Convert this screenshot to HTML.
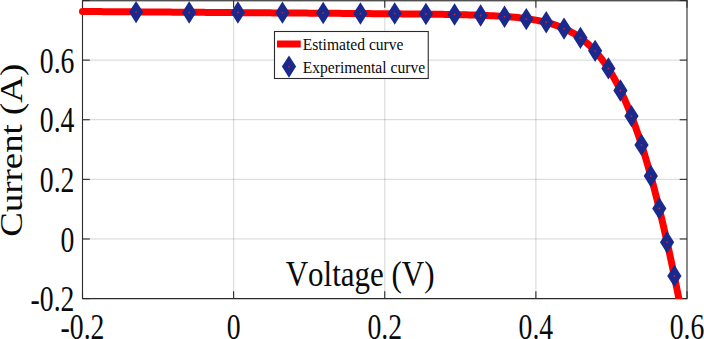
<!DOCTYPE html><html><head><meta charset="utf-8"><style>html,body{margin:0;padding:0;background:#fff;overflow:hidden}svg{display:block}text{font-family:"Liberation Serif",serif;fill:#0a0a0a;font-kerning:none;font-variant-ligatures:none}</style></head><body>
<svg width="704" height="339" viewBox="0 0 704 339">
<rect width="704" height="339" fill="#fff"/>
<defs><clipPath id="c"><rect x="70" y="0" width="620" height="299"/></clipPath></defs>
<line x1="233.62" y1="0.5" x2="233.62" y2="298.6" stroke="#000" stroke-opacity="0.135" stroke-width="1.25"/>
<line x1="384.75" y1="0.5" x2="384.75" y2="298.6" stroke="#000" stroke-opacity="0.135" stroke-width="1.25"/>
<line x1="535.88" y1="0.5" x2="535.88" y2="298.6" stroke="#000" stroke-opacity="0.135" stroke-width="1.25"/>
<line x1="82.5" y1="238.98" x2="687.0" y2="238.98" stroke="#000" stroke-opacity="0.135" stroke-width="1.25"/>
<line x1="82.5" y1="179.36" x2="687.0" y2="179.36" stroke="#000" stroke-opacity="0.135" stroke-width="1.25"/>
<line x1="82.5" y1="119.74" x2="687.0" y2="119.74" stroke="#000" stroke-opacity="0.135" stroke-width="1.25"/>
<line x1="82.5" y1="60.12" x2="687.0" y2="60.12" stroke="#000" stroke-opacity="0.135" stroke-width="1.25"/>
<path d="M82.5,0 L82.5,298.6 L687.0,298.6 L687.0,0" fill="none" stroke="#2a2a2a" stroke-width="1.1"/>
<rect x="82.0" y="0" width="605.5" height="1" fill="#505050"/>
<rect x="82.0" y="1" width="605.5" height="1" fill="#000" fill-opacity="0.28"/>
<line x1="82.50" y1="298.6" x2="82.50" y2="291.3" stroke="#2a2a2a" stroke-width="1.1"/>
<line x1="82.50" y1="0.5" x2="82.50" y2="7.8" stroke="#2a2a2a" stroke-width="1.1"/>
<line x1="233.62" y1="298.6" x2="233.62" y2="291.3" stroke="#2a2a2a" stroke-width="1.1"/>
<line x1="233.62" y1="0.5" x2="233.62" y2="7.8" stroke="#2a2a2a" stroke-width="1.1"/>
<line x1="384.75" y1="298.6" x2="384.75" y2="291.3" stroke="#2a2a2a" stroke-width="1.1"/>
<line x1="384.75" y1="0.5" x2="384.75" y2="7.8" stroke="#2a2a2a" stroke-width="1.1"/>
<line x1="535.88" y1="298.6" x2="535.88" y2="291.3" stroke="#2a2a2a" stroke-width="1.1"/>
<line x1="535.88" y1="0.5" x2="535.88" y2="7.8" stroke="#2a2a2a" stroke-width="1.1"/>
<line x1="687.00" y1="298.6" x2="687.00" y2="291.3" stroke="#2a2a2a" stroke-width="1.1"/>
<line x1="687.00" y1="0.5" x2="687.00" y2="7.8" stroke="#2a2a2a" stroke-width="1.1"/>
<line x1="82.5" y1="298.60" x2="89.8" y2="298.60" stroke="#2a2a2a" stroke-width="1.1"/>
<line x1="687.0" y1="298.60" x2="679.7" y2="298.60" stroke="#2a2a2a" stroke-width="1.1"/>
<line x1="82.5" y1="238.98" x2="89.8" y2="238.98" stroke="#2a2a2a" stroke-width="1.1"/>
<line x1="687.0" y1="238.98" x2="679.7" y2="238.98" stroke="#2a2a2a" stroke-width="1.1"/>
<line x1="82.5" y1="179.36" x2="89.8" y2="179.36" stroke="#2a2a2a" stroke-width="1.1"/>
<line x1="687.0" y1="179.36" x2="679.7" y2="179.36" stroke="#2a2a2a" stroke-width="1.1"/>
<line x1="82.5" y1="119.74" x2="89.8" y2="119.74" stroke="#2a2a2a" stroke-width="1.1"/>
<line x1="687.0" y1="119.74" x2="679.7" y2="119.74" stroke="#2a2a2a" stroke-width="1.1"/>
<line x1="82.5" y1="60.12" x2="89.8" y2="60.12" stroke="#2a2a2a" stroke-width="1.1"/>
<line x1="687.0" y1="60.12" x2="679.7" y2="60.12" stroke="#2a2a2a" stroke-width="1.1"/>
<line x1="82.5" y1="0.50" x2="89.8" y2="0.50" stroke="#2a2a2a" stroke-width="1.1"/>
<line x1="687.0" y1="0.50" x2="679.7" y2="0.50" stroke="#2a2a2a" stroke-width="1.1"/>
<path d="M82.50,11.48 L85.52,11.50 L88.55,11.52 L91.57,11.55 L94.59,11.57 L97.61,11.59 L100.64,11.61 L103.66,11.64 L106.68,11.66 L109.70,11.68 L112.73,11.70 L115.75,11.72 L118.77,11.75 L121.79,11.77 L124.82,11.79 L127.84,11.81 L130.86,11.83 L133.88,11.86 L136.91,11.88 L139.93,11.90 L142.95,11.92 L145.97,11.95 L149.00,11.97 L152.02,11.99 L155.04,12.01 L158.06,12.03 L161.09,12.06 L164.11,12.08 L167.13,12.10 L170.15,12.12 L173.18,12.15 L176.20,12.17 L179.22,12.19 L182.24,12.21 L185.27,12.23 L188.29,12.26 L191.31,12.28 L194.33,12.30 L197.36,12.32 L200.38,12.35 L203.40,12.37 L206.42,12.39 L209.45,12.41 L212.47,12.43 L215.49,12.46 L218.51,12.48 L221.54,12.50 L224.56,12.52 L227.58,12.54 L230.60,12.57 L233.63,12.59 L236.65,12.61 L239.67,12.63 L242.69,12.66 L245.72,12.68 L248.74,12.70 L251.76,12.72 L254.78,12.74 L257.81,12.77 L260.83,12.79 L263.85,12.81 L266.87,12.83 L269.90,12.86 L272.92,12.88 L275.94,12.90 L278.96,12.92 L281.99,12.94 L285.01,12.97 L288.03,12.99 L291.05,13.01 L294.08,13.03 L297.10,13.06 L300.12,13.08 L303.14,13.10 L306.17,13.12 L309.19,13.15 L312.21,13.17 L315.23,13.19 L318.26,13.21 L321.28,13.24 L324.30,13.26 L327.32,13.28 L330.35,13.30 L333.37,13.33 L336.39,13.35 L339.41,13.37 L342.44,13.40 L345.46,13.42 L348.48,13.44 L351.50,13.46 L354.53,13.49 L357.55,13.51 L360.57,13.53 L363.59,13.56 L366.62,13.58 L369.64,13.61 L372.66,13.63 L375.68,13.66 L378.71,13.68 L381.73,13.71 L384.75,13.73 L387.77,13.76 L390.80,13.78 L393.82,13.81 L396.84,13.84 L399.86,13.86 L402.89,13.89 L405.91,13.92 L408.93,13.95 L411.95,13.98 L414.98,14.01 L418.00,14.04 L421.02,14.08 L424.04,14.11 L427.07,14.14 L430.09,14.18 L433.11,14.22 L436.13,14.26 L439.16,14.30 L442.18,14.35 L445.20,14.39 L448.22,14.44 L451.25,14.49 L454.27,14.55 L457.29,14.61 L460.31,14.67 L463.34,14.74 L466.36,14.81 L469.38,14.89 L472.40,14.97 L475.43,15.06 L478.45,15.16 L481.47,15.26 L484.49,15.38 L487.52,15.50 L490.54,15.64 L493.56,15.78 L496.58,15.94 L499.61,16.12 L502.63,16.31 L505.65,16.52 L508.67,16.75 L511.70,17.00 L514.72,17.28 L517.74,17.58 L520.76,17.91 L523.79,18.27 L526.81,18.67 L529.83,19.11 L532.85,19.60 L535.88,20.13 L538.90,20.72 L541.92,21.36 L544.94,22.07 L547.97,22.84 L550.99,23.70 L554.01,24.64 L557.03,25.67 L560.06,26.81 L563.08,28.05 L566.10,29.42 L569.12,30.92 L572.15,32.56 L575.17,34.36 L578.19,36.33 L581.21,38.48 L584.24,40.83 L587.26,43.39 L590.28,46.18 L593.30,49.22 L596.33,52.51 L599.35,56.09 L602.37,59.97 L605.39,64.17 L608.42,68.69 L611.44,73.57 L614.46,78.82 L617.48,84.45 L620.51,90.49 L623.53,96.94 L626.55,103.82 L629.57,111.15 L632.60,118.94 L635.62,127.19 L638.64,135.92 L641.66,145.13 L644.69,154.83 L647.71,165.03 L650.73,175.71 L653.75,186.90 L656.78,198.58 L659.80,210.75 L662.82,223.41 L665.84,236.56 L668.87,250.19 L671.89,264.28 L674.91,278.84 L677.93,293.86 L680.96,309.32" fill="none" stroke="#ff0000" stroke-width="7" stroke-linecap="round" stroke-linejoin="round" clip-path="url(#c)"/>
<g clip-path="url(#c)">
<path d="M136.07,0.88 L143.17,12.08 L136.07,23.28 L128.97,12.08Z" fill="#1a2a8c"/>
<circle cx="136.07" cy="12.08" r="0.9" fill="#c8204a"/>
<path d="M189.19,1.32 L196.29,12.52 L189.19,23.72 L182.09,12.52Z" fill="#1a2a8c"/>
<circle cx="189.19" cy="12.52" r="0.9" fill="#c8204a"/>
<path d="M237.93,1.32 L245.03,12.52 L237.93,23.72 L230.83,12.52Z" fill="#1a2a8c"/>
<circle cx="237.93" cy="12.52" r="0.9" fill="#c8204a"/>
<path d="M282.44,1.47 L289.54,12.67 L282.44,23.87 L275.34,12.67Z" fill="#1a2a8c"/>
<circle cx="282.44" cy="12.67" r="0.9" fill="#c8204a"/>
<path d="M323.17,1.77 L330.27,12.97 L323.17,24.17 L316.07,12.97Z" fill="#1a2a8c"/>
<circle cx="323.17" cy="12.97" r="0.9" fill="#c8204a"/>
<path d="M360.42,2.37 L367.52,13.57 L360.42,24.77 L353.32,13.57Z" fill="#1a2a8c"/>
<circle cx="360.42" cy="13.57" r="0.9" fill="#c8204a"/>
<path d="M394.72,2.37 L401.82,13.57 L394.72,24.77 L387.62,13.57Z" fill="#1a2a8c"/>
<circle cx="394.72" cy="13.57" r="0.9" fill="#c8204a"/>
<path d="M425.93,2.82 L433.03,14.02 L425.93,25.22 L418.83,14.02Z" fill="#1a2a8c"/>
<circle cx="425.93" cy="14.02" r="0.9" fill="#c8204a"/>
<path d="M454.57,3.26 L461.67,14.46 L454.57,25.66 L447.47,14.46Z" fill="#1a2a8c"/>
<circle cx="454.57" cy="14.46" r="0.9" fill="#c8204a"/>
<path d="M480.64,4.31 L487.74,15.51 L480.64,26.71 L473.54,15.51Z" fill="#1a2a8c"/>
<circle cx="480.64" cy="15.51" r="0.9" fill="#c8204a"/>
<path d="M504.52,5.50 L511.62,16.70 L504.52,27.90 L497.42,16.70Z" fill="#1a2a8c"/>
<circle cx="504.52" cy="16.70" r="0.9" fill="#c8204a"/>
<path d="M526.28,7.88 L533.38,19.08 L526.28,30.28 L519.18,19.08Z" fill="#1a2a8c"/>
<circle cx="526.28" cy="19.08" r="0.9" fill="#c8204a"/>
<path d="M546.23,11.01 L553.33,22.21 L546.23,33.41 L539.13,22.21Z" fill="#1a2a8c"/>
<circle cx="546.23" cy="22.21" r="0.9" fill="#c8204a"/>
<path d="M564.06,17.42 L571.16,28.62 L564.06,39.82 L556.96,28.62Z" fill="#1a2a8c"/>
<circle cx="564.06" cy="28.62" r="0.9" fill="#c8204a"/>
<path d="M580.46,26.66 L587.56,37.86 L580.46,49.06 L573.36,37.86Z" fill="#1a2a8c"/>
<circle cx="580.46" cy="37.86" r="0.9" fill="#c8204a"/>
<path d="M595.12,39.63 L602.22,50.83 L595.12,62.03 L588.02,50.83Z" fill="#1a2a8c"/>
<circle cx="595.12" cy="50.83" r="0.9" fill="#c8204a"/>
<path d="M608.41,57.22 L615.51,68.42 L608.41,79.62 L601.31,68.42Z" fill="#1a2a8c"/>
<circle cx="608.41" cy="68.42" r="0.9" fill="#c8204a"/>
<path d="M620.43,79.28 L627.53,90.48 L620.43,101.68 L613.33,90.48Z" fill="#1a2a8c"/>
<circle cx="620.43" cy="90.48" r="0.9" fill="#c8204a"/>
<path d="M631.46,104.91 L638.56,116.11 L631.46,127.31 L624.36,116.11Z" fill="#1a2a8c"/>
<circle cx="631.46" cy="116.11" r="0.9" fill="#c8204a"/>
<path d="M641.51,133.68 L648.61,144.88 L641.51,156.08 L634.41,144.88Z" fill="#1a2a8c"/>
<circle cx="641.51" cy="144.88" r="0.9" fill="#c8204a"/>
<path d="M650.81,164.83 L657.91,176.03 L650.81,187.23 L643.71,176.03Z" fill="#1a2a8c"/>
<circle cx="650.81" cy="176.03" r="0.9" fill="#c8204a"/>
<path d="M659.27,197.18 L666.37,208.38 L659.27,219.58 L652.17,208.38Z" fill="#1a2a8c"/>
<circle cx="659.27" cy="208.38" r="0.9" fill="#c8204a"/>
<path d="M667.05,231.01 L674.15,242.21 L667.05,253.41 L659.95,242.21Z" fill="#1a2a8c"/>
<circle cx="667.05" cy="242.21" r="0.9" fill="#c8204a"/>
<path d="M674.38,264.70 L681.48,275.90 L674.38,287.10 L667.28,275.90Z" fill="#1a2a8c"/>
<circle cx="674.38" cy="275.90" r="0.9" fill="#c8204a"/>
</g>
<rect x="274.5" y="31.5" width="153.75" height="47" fill="#fff" stroke="#2a2a2a" stroke-width="1.1"/>
<line x1="277" y1="44" x2="300.75" y2="44" stroke="#ff0000" stroke-width="7"/>
<path d="M289.00,55.40 L296.10,66.60 L289.00,77.80 L281.90,66.60Z" fill="#1a2a8c"/>
<circle cx="289.00" cy="66.60" r="0.9" fill="#c8204a"/>
<text transform="translate(302.70,50.30) scale(1,1.1)" font-size="15.6" text-anchor="start">Estimated curve</text>
<text transform="translate(302.70,72.80) scale(1,1.1)" font-size="15.6" text-anchor="start">Experimental curve</text>
<text transform="translate(82.50,338.60) scale(1,1.265)" font-size="27.7" text-anchor="middle">-0.2</text>
<text transform="translate(233.62,338.60) scale(1,1.265)" font-size="27.7" text-anchor="middle">0</text>
<text transform="translate(384.75,338.60) scale(1,1.265)" font-size="27.7" text-anchor="middle">0.2</text>
<text transform="translate(535.88,338.60) scale(1,1.265)" font-size="27.7" text-anchor="middle">0.4</text>
<text transform="translate(687.00,338.60) scale(1,1.265)" font-size="27.7" text-anchor="middle">0.6</text>
<text transform="translate(74.40,311.20) scale(1,1.275)" font-size="27.7" text-anchor="end">-0.2</text>
<text transform="translate(74.40,251.58) scale(1,1.275)" font-size="27.7" text-anchor="end">0</text>
<text transform="translate(74.40,191.96) scale(1,1.275)" font-size="27.7" text-anchor="end">0.2</text>
<text transform="translate(74.40,132.34) scale(1,1.275)" font-size="27.7" text-anchor="end">0.4</text>
<text transform="translate(74.40,72.72) scale(1,1.275)" font-size="27.7" text-anchor="end">0.6</text>
<text transform="translate(360.10,286.00) scale(1,1.17)" font-size="31" text-anchor="middle">Voltage (V)</text>
<text transform="translate(22.1,150.3) rotate(-90) scale(1.19,1)" font-size="31" text-anchor="middle">Current (A)</text>
</svg></body></html>
